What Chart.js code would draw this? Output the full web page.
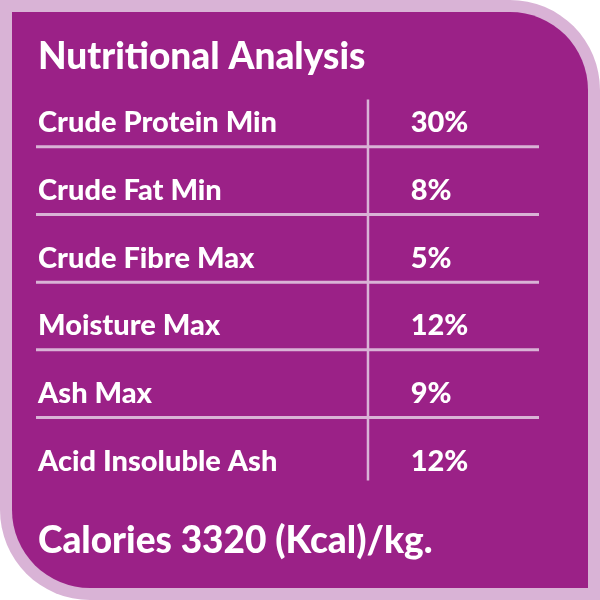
<!DOCTYPE html>
<html><head><meta charset="utf-8">
<script src="https://cdn.jsdelivr.net/npm/chart.js@4"></script>
<style>html,body{margin:0;padding:0;background:#fff}#w{width:600px;height:600px}</style>
</head><body><div id="w"><canvas id="c" width="600" height="600"></canvas></div>
<script>
const title = "Nutritional Analysis";
const nutrients = ["Crude Protein Min","Crude Fat Min","Crude Fibre Max","Moisture Max","Ash Max","Acid Insoluble Ash"];
const percents = [30, 8, 5, 12, 9, 12];
const footer = "Calories 3320 (Kcal)/kg.";

const PURPLE = "#9b2187", LILAC = "#d9b3d6";
function rr(ctx,x,y,w,h,r){
  ctx.beginPath();ctx.moveTo(x,y);ctx.lineTo(x+w-r,y);ctx.arcTo(x+w,y,x+w,y+r,r);
  ctx.lineTo(x+w,y+h);ctx.lineTo(x+r,y+h);ctx.arcTo(x,y+h,x,y+h-r,r);ctx.lineTo(x,y);ctx.closePath();
}
const tablePlugin = {
  id:'table',
  beforeDraw(chart){
    const ctx=chart.ctx;ctx.save();
    ctx.fillStyle=LILAC;rr(ctx,0,0,600,600,90);ctx.fill();
    ctx.fillStyle=PURPLE;rr(ctx,12,12,576,576,78);ctx.fill();
    ctx.restore();
  },
  afterDatasetsDraw(chart){
    const ctx=chart.ctx, xs=chart.scales.x, ys=chart.scales.y;
    ctx.save();
    ctx.strokeStyle=LILAC;ctx.lineWidth=3;
    for(let i=0;i<nutrients.length-1;i++){
      const y=ys.getPixelForValue(i+0.37);
      ctx.beginPath();ctx.moveTo(xs.getPixelForValue(0),y);ctx.lineTo(xs.getPixelForValue(1),y);ctx.stroke();
    }
    ctx.lineWidth=2.5;
    const vx=xs.getPixelForValue(0.66);
    ctx.beginPath();ctx.moveTo(vx,ys.getPixelForValue(-0.33));ctx.lineTo(vx,ys.getPixelForValue(5.3));ctx.stroke();
    ctx.fillStyle="#fff";ctx.textBaseline="middle";ctx.textAlign="left";
    ctx.font="900 29px Lato";
    chart.data.datasets[0].data.forEach((p,i)=>{
      const y=ys.getPixelForValue(p.y)+1;
      ctx.fillText(nutrients[i],xs.getPixelForValue(0)+2,y);
      ctx.fillText(p.v+"%",xs.getPixelForValue(0.745),y);
    });
    ctx.font="900 37px Lato";
    ctx.fillText(title,38,57);
    ctx.font="900 37px Lato";
    ctx.fillText(footer,38,541);
    ctx.restore();
  }
};
new Chart(document.getElementById('c'),{
  type:'scatter',
  data:{datasets:[{data:percents.map((v,i)=>({x:0,y:i,v:v})),pointRadius:0}]},
  options:{responsive:false,animation:false,
    layout:{padding:{left:36,right:61,top:88,bottom:106}},
    plugins:{legend:{display:false},tooltip:{enabled:false}},
    scales:{x:{type:'linear',min:0,max:1,display:false},
            y:{type:'linear',min:-0.5,max:5.5,reverse:true,display:false}}},
  plugins:[tablePlugin]
});
</script></body></html>
